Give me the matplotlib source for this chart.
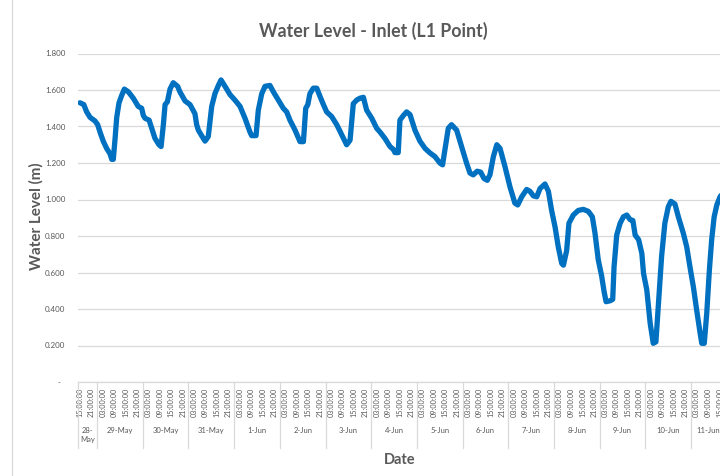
import numpy as np
import matplotlib.pyplot as plt

# Hours counted from 28-May 15:00 and water level (m)
hours = [0, 2, 3.5, 5.3, 7.9, 9.3, 10.5, 12.2, 14.0, 15.8,
         16.7, 17.5, 18.4, 19.3, 20.5, 21.9, 23.3, 25.4, 28.0, 30.6,
         32.4, 33.3, 34.2, 36.3, 37.7, 39.4, 41.5, 42.6, 43.8, 44.7,
         45.9, 47.3, 49.0, 51.3, 52.5, 55.2, 57.8, 60.4, 61.3, 62.2,
         63.9, 65.7, 67.4, 69.2, 70.9, 72.7, 74.1, 76.2, 78.8, 81.4,
         84.1, 86.7, 89.3, 90.2, 92.5, 93.7, 95.5, 97.2, 99.8, 101.6,
         104.2, 106.8, 108.6, 110.3, 113.0, 115.6, 117.4, 118.6, 119.7, 120.8,
         122.6, 124.4, 126.1, 127.9, 129.6, 132.2, 134.9, 137.5, 140.1, 141.9,
         143.6, 145.4, 147.1, 148.9, 150.6, 153.3, 155.9, 157.6, 160.2, 162.9,
         164.6, 165.5, 167.2, 168.1, 169.9, 171.6, 173.4, 176.0, 178.6, 181.3,
         183.9, 186.5, 189.1, 190.5, 191.7, 193.5, 195.2, 197.9, 200.5, 203.1,
         204.9, 206.6, 208.7, 210.5, 212.3, 214.0, 215.4, 217.2, 219.0, 220.7,
         223.3, 225.9, 228.5, 230.0, 232.1, 234.7, 236.4, 238.2, 240.0, 241.7,
         244.3, 246.1, 247.8, 249.6, 251.3, 253.1, 254.0, 255.7, 256.9, 259.2,
         261.8, 264.4, 267.1, 269.2, 270.6, 272.3, 274.1, 275.3, 276.4, 278.5,
         279.9, 280.6, 282.0, 283.8, 285.5, 287.3, 289.0, 290.5, 291.7, 293.5,
         295.2, 296.1, 297.8, 299.6, 301.2, 302.6, 303.8, 305.6, 307.3, 309.1,
         310.5, 312.6, 314.4, 317.0, 318.8, 320.5, 322.3, 324.0, 325.8, 326.7,
         328.0, 329.3, 330.7, 331.9, 333.2, 334.6, 336.3, 338.0]
level = [1.53, 1.52, 1.48, 1.45, 1.43, 1.41, 1.37, 1.32, 1.28, 1.25,
         1.22, 1.22, 1.33, 1.45, 1.53, 1.57, 1.605, 1.59, 1.555, 1.51,
         1.50, 1.46, 1.445, 1.435, 1.39, 1.335, 1.30, 1.29, 1.41, 1.52,
         1.535, 1.605, 1.64, 1.62, 1.59, 1.54, 1.52, 1.47, 1.41, 1.38,
         1.35, 1.32, 1.345, 1.51, 1.58, 1.625, 1.655, 1.62, 1.575, 1.545,
         1.51, 1.445, 1.37, 1.35, 1.35, 1.49, 1.58, 1.62, 1.625, 1.59,
         1.545, 1.50, 1.48, 1.435, 1.38, 1.317, 1.317, 1.50, 1.52, 1.58,
         1.61, 1.61, 1.565, 1.52, 1.48, 1.455, 1.41, 1.355, 1.30, 1.325,
         1.525, 1.545, 1.555, 1.56, 1.49, 1.445, 1.39, 1.37, 1.335, 1.29,
         1.275, 1.257, 1.257, 1.435, 1.46, 1.48, 1.465, 1.38, 1.32, 1.28,
         1.255, 1.235, 1.20, 1.19, 1.27, 1.39, 1.41, 1.38, 1.29, 1.20,
         1.145, 1.135, 1.155, 1.15, 1.115, 1.105, 1.135, 1.235, 1.30, 1.28,
         1.18, 1.07, 0.98, 0.97, 1.015, 1.055, 1.045, 1.02, 1.015, 1.06,
         1.085, 1.045, 0.94, 0.85, 0.74, 0.65, 0.64, 0.72, 0.87, 0.915,
         0.94, 0.946, 0.935, 0.905, 0.815, 0.67, 0.58, 0.50, 0.44, 0.445,
         0.453, 0.63, 0.805, 0.87, 0.905, 0.915, 0.89, 0.885, 0.805, 0.78,
         0.705, 0.595, 0.505, 0.32, 0.212, 0.22, 0.41, 0.69, 0.87, 0.96,
         0.99, 0.975, 0.905, 0.815, 0.74, 0.63, 0.52, 0.395, 0.27, 0.212,
         0.212, 0.375, 0.615, 0.78, 0.905, 0.97, 1.015, 1.04]

days = ['28-\nMay', '29-May', '30-May', '31-May', '1-Jun', '2-Jun', '3-Jun',
        '4-Jun', '5-Jun', '6-Jun', '7-Jun', '8-Jun', '9-Jun', '10-Jun', '11-Jun']
time_names = ['15:00:00', '21:00:00', '03:00:00', '09:00:00']

plt.rcParams['font.family'] = ['Lato', 'DejaVu Sans']
grey = '#595959'
light = '#D9D9D9'

fig = plt.figure(figsize=(7.2, 4.76), dpi=100)
ax = fig.add_axes([78/720, 1-382/476, (725-78)/720, (382-53.5)/476])

xl, xr = -1.05, 338.9
ax.plot(hours, level, color='#0070C0', lw=3.8, solid_joinstyle='round',
        solid_capstyle='round')
ax.set_xlim(xl, xr)
ax.set_ylim(0, 1.8)

yt = np.arange(0, 1.81, 0.2)
ax.set_yticks(yt)
ax.set_yticklabels(['-  '] + ['%.3f' % v for v in yt[1:]])
ax.yaxis.grid(True, color=light, lw=0.9)
ax.set_axisbelow(True)
for s in ['top', 'right', 'left']:
    ax.spines[s].set_visible(False)
ax.spines['bottom'].set_color(light)
ax.spines['bottom'].set_linewidth(0.9)

xt = np.arange(0, 337, 6)
ax.set_xticks(xt)
ax.set_xticklabels([time_names[i % 4] for i in range(len(xt))], rotation=90)
ax.tick_params(axis='x', length=0, pad=4, labelsize=5.2, labelcolor=grey)
ax.tick_params(axis='y', length=0, pad=9, labelsize=5.8, labelcolor=grey)

# day groups below the time labels
tr = ax.get_xaxis_transform()
bounds = [xl] + [9 + 24*k for k in range(14)] + [xr]
for b in bounds:
    ax.plot([b, b], [0, -0.201], transform=tr, color=light, lw=0.9,
            clip_on=False)
for i, d in enumerate(days):
    c = (bounds[i] + bounds[i+1]) / 2
    ax.text(c, -0.137, d, transform=tr, ha='center', va='top', fontsize=5.5,
            color=grey, linespacing=1.3)

# chart frame on the left
fig.add_artist(plt.Line2D([12/720, 12/720], [0, 1], color=light, lw=0.9))

fig.text(373/720, 1-31/476, 'Water Level - Inlet (L1 Point)', ha='center',
         va='center', fontsize=12.8, fontweight='bold', color=grey)
fig.text(36/720, 1-216/476, 'Water Level (m)', ha='center', va='center',
         rotation=90, fontsize=11, fontweight='bold', color=grey)
fig.text(400/720, 1-460/476, 'Date', ha='center', va='center',
         fontsize=10.5, fontweight='bold', color=grey)

fig.savefig('out.png', dpi=100)
